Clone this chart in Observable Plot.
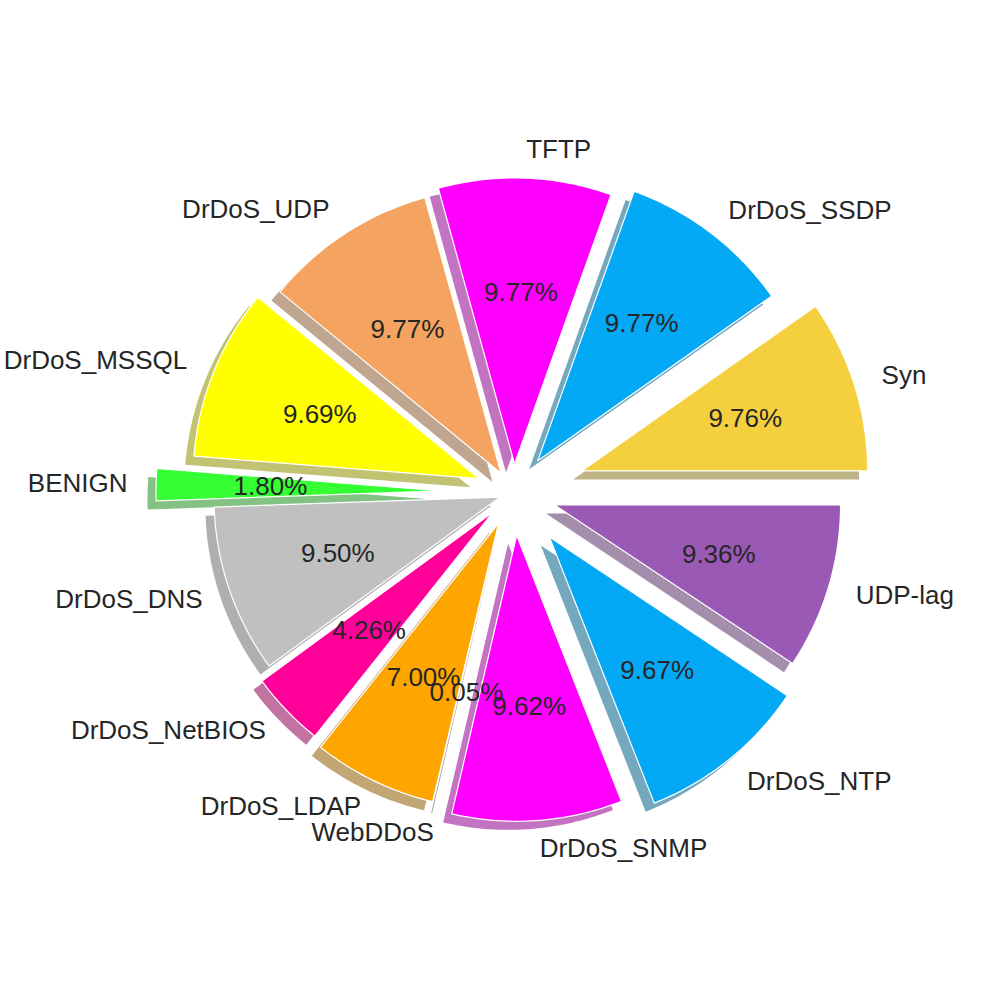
<!DOCTYPE html>
<html><head><meta charset="utf-8">
<script src="https://cdn.jsdelivr.net/npm/d3@7"></script>
<script src="https://cdn.jsdelivr.net/npm/@observablehq/plot@0.6"></script>
<style>body{margin:0;background:#fff}</style>
</head><body><div id="chart"></div>
<script>
const labels = ['Syn','DrDoS_SSDP','TFTP','DrDoS_UDP','DrDoS_MSSQL','BENIGN','DrDoS_DNS','DrDoS_NetBIOS','DrDoS_LDAP','WebDDoS','DrDoS_SNMP','DrDoS_NTP','UDP-lag'];
const shares = [9.76,9.77,9.77,9.77,9.69,1.80,9.50,4.26,7.00,0.05,9.62,9.67,9.36];
const colors = ['#f4d03f','#03a9f4','#ff00ff','#f4a460','#ffff00','#33ff33','#c0c0c0','#ff0099','#ffa500','#6a8f6a','#ff00ff','#03a9f4','#9b59b6'];
const explode = [0.25,0.14,0.1,0.08,0.13,0.25,0.05,0.1,0.12,0.12,0.15,0.2,0.15];

const total = d3.sum(shares);
const poly = [], shadow = [], pct = [], names = [];
let start = 0;
shares.forEach((v, i) => {
  const a0 = start, a1 = start + v / total * 2 * Math.PI; start = a1;
  const mid = (a0 + a1) / 2;
  const ox = explode[i] * Math.cos(mid), oy = explode[i] * Math.sin(mid);
  const pts = [[ox, oy]];
  const n = Math.max(2, Math.ceil((a1 - a0) * 60));
  for (let k = 0; k <= n; k++) {
    const a = a0 + (a1 - a0) * k / n;
    pts.push([ox + Math.cos(a), oy + Math.sin(a)]);
  }
  pts.push([ox, oy]);
  const sc = d3.color(colors[i]).darker(1.6).formatHex();
  pts.forEach(([x, y]) => {
    poly.push({name: labels[i], x, y, c: colors[i]});
    shadow.push({name: labels[i], x: x - 0.03, y: y - 0.03, c: sc});
  });
  pct.push({x: ox + 0.6 * Math.cos(mid), y: oy + 0.6 * Math.sin(mid), t: shares[i].toFixed(2) + '%'});
  names.push({x: ox + 1.1 * Math.cos(mid), y: oy + 1.1 * Math.sin(mid), t: labels[i], right: Math.cos(mid) >= 0});
});

const font = "'Liberation Sans', Arial, sans-serif";
const k = 286;
const chart = Plot.plot({
  width: 1000, height: 1000,
  margin: 0,
  style: {background: 'white', fontFamily: font},
  x: {domain: [-513 / k, 487 / k], axis: null},
  y: {domain: [-508 / k, 492 / k], axis: null},
  color: {type: 'identity'},
  marks: [
    Plot.line(shadow, {x: 'x', y: 'y', z: 'name', fill: 'c', fillOpacity: 0.55, stroke: 'none', curve: 'linear'}),
    Plot.line(poly, {x: 'x', y: 'y', z: 'name', fill: 'c', stroke: 'white', strokeWidth: 1.2, curve: 'linear'}),
    Plot.text(pct, {x: 'x', y: 'y', text: 't', fontSize: 26, fill: '#262626'}),
    Plot.text(names.filter(d => d.right), {x: 'x', y: 'y', text: 't', fontSize: 26, fill: '#262626', textAnchor: 'start'}),
    Plot.text(names.filter(d => !d.right), {x: 'x', y: 'y', text: 't', fontSize: 26, fill: '#262626', textAnchor: 'end'})
  ]
});
document.getElementById('chart').appendChild(chart);
</script></body></html>
